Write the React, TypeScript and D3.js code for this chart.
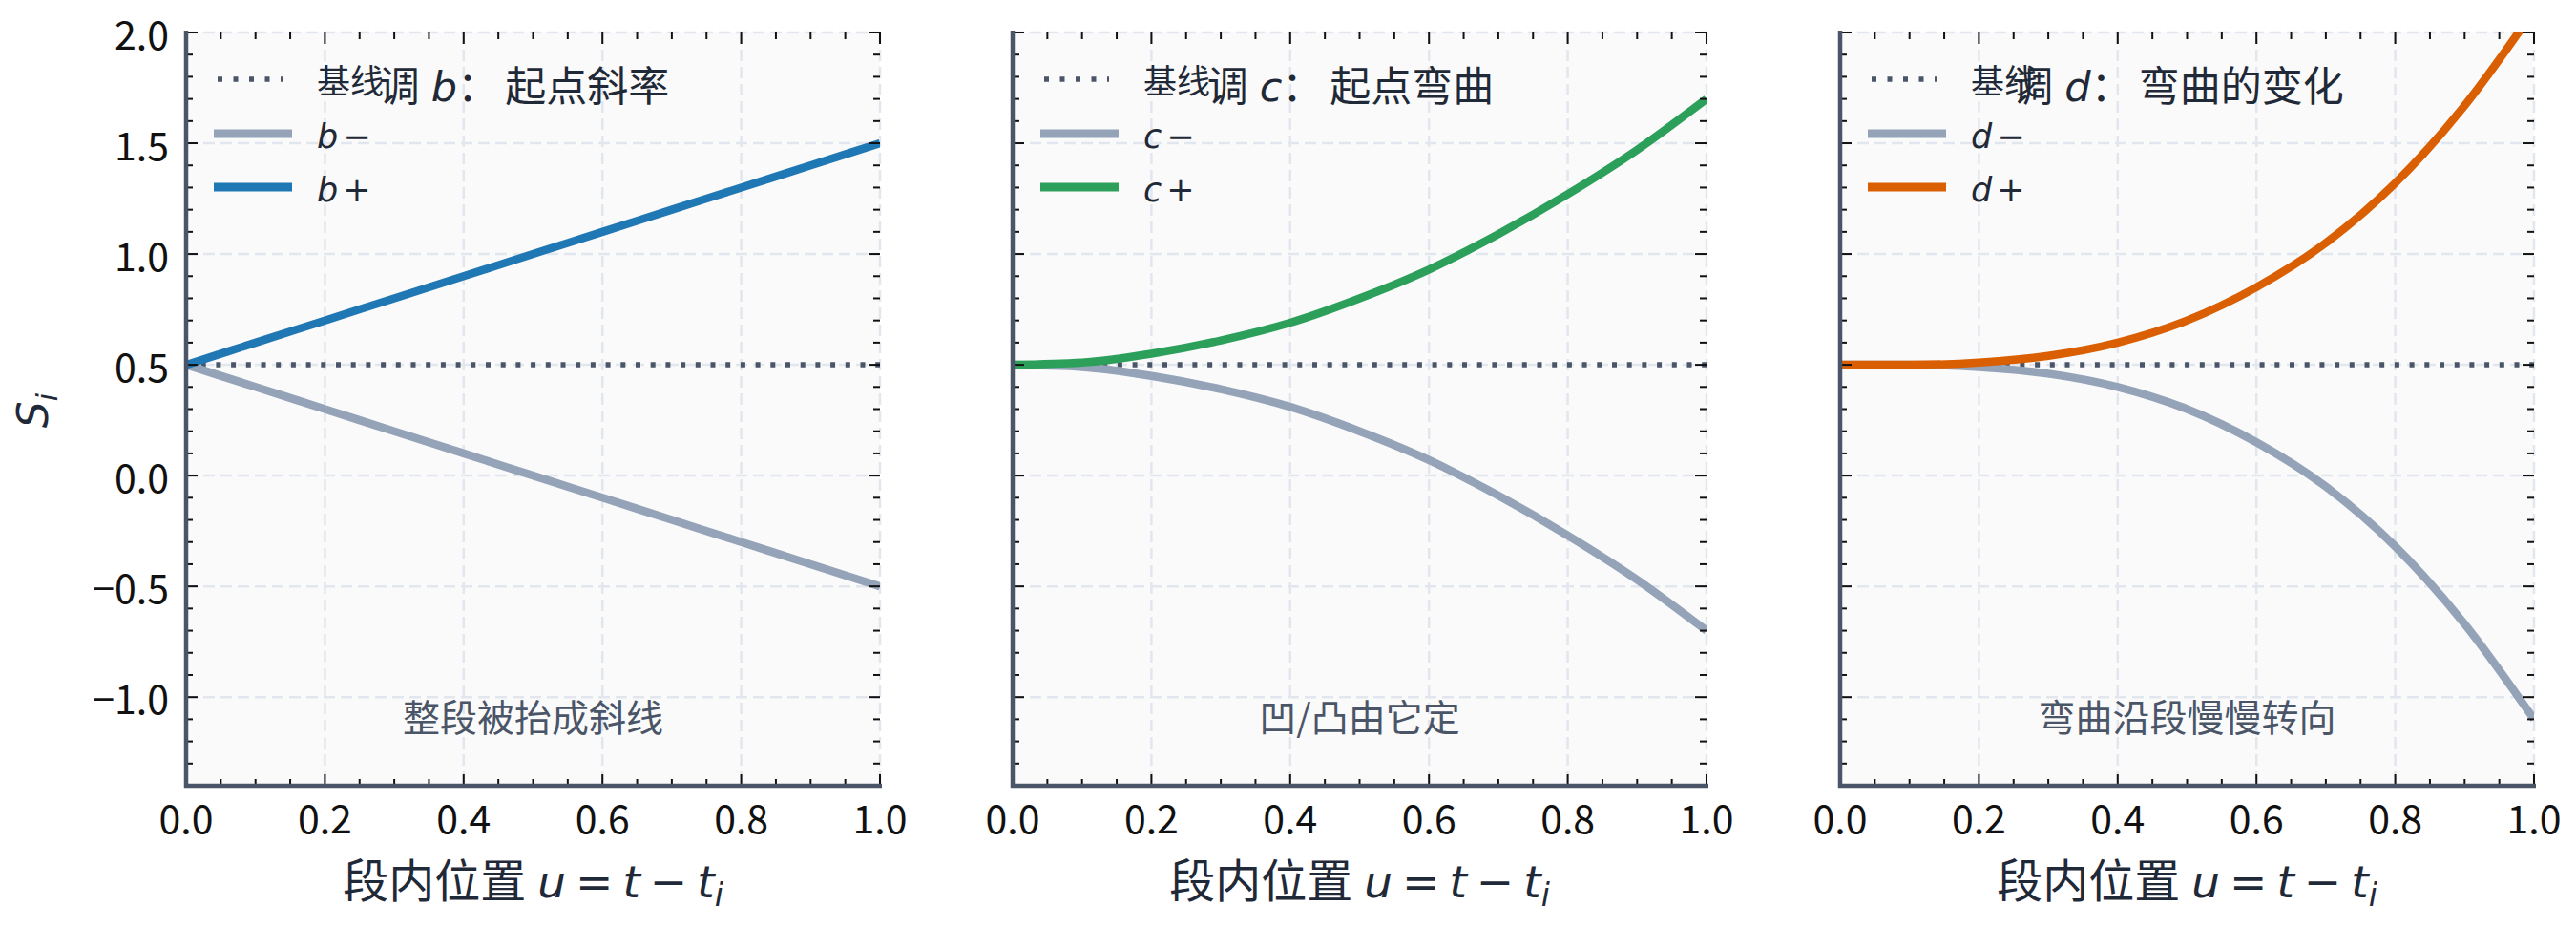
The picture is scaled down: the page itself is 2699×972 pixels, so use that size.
import React from 'react';
import * as d3 from 'd3';

const W = 2699;
const H = 972;

// sample positions along the segment
const uValues = [0, 0.1, 0.2, 0.3, 0.4, 0.5, 0.6, 0.7, 0.8, 0.9, 1.0];

// values
const baseline = [0.5, 0.5, 0.5, 0.5, 0.5, 0.5, 0.5, 0.5, 0.5, 0.5, 0.5];
const bMinus = [0.5, 0.4, 0.3, 0.2, 0.1, 0.0, -0.1, -0.2, -0.3, -0.4, -0.5];
const bPlus = [0.5, 0.6, 0.7, 0.8, 0.9, 1.0, 1.1, 1.2, 1.3, 1.4, 1.5];
const cMinus = [0.5, 0.49, 0.45, 0.39, 0.31, 0.2, 0.07, -0.09, -0.27, -0.47, -0.7];
const cPlus = [0.5, 0.51, 0.55, 0.61, 0.69, 0.8, 0.93, 1.09, 1.27, 1.47, 1.7];
const dMinus = [0.5, 0.5, 0.49, 0.46, 0.4, 0.3, 0.15, -0.05, -0.32, -0.67, -1.1];
const dPlus = [0.5, 0.5, 0.51, 0.54, 0.6, 0.7, 0.85, 1.05, 1.32, 1.67, 2.1];

const xTicks = [0, 0.2, 0.4, 0.6, 0.8, 1.0];
const yTicks = [-1.0, -0.5, 0.0, 0.5, 1.0, 1.5, 2.0];

const letters = ['b', 'c', 'd'];
const titles = ['起点斜率', '起点弯曲', '弯曲的变化'];
const notes = ['整段被抬成斜线', '凹/凸由它定', '弯曲沿段慢慢转向'];
const minusSeries = [bMinus, cMinus, dMinus];
const plusSeries = [bPlus, cPlus, dPlus];
const plusColors = ['#1f77b4', '#2ca05a', '#d95f02'];
const minusColor = '#94a3b8';

const FONT = '"Noto Sans CJK SC", "Noto Sans", sans-serif';
const MATH = '"DejaVu Sans", sans-serif';
const panelLefts = [195, 1061, 1928];
const panelW = 727;
const top = 34;
const bottom = 823;

function Panel({ idx }: { idx: number }) {
  const left = panelLefts[idx];
  const right = left + panelW;
  const x = d3.scaleLinear().domain([0, 1]).range([left, right]);
  const y = d3.scaleLinear().domain([-1.4, 2.0]).range([bottom, top]);
  const line = d3
    .line<number>()
    .x((_, i) => x(uValues[i]))
    .y((v) => y(v))
    .curve(d3.curveMonotoneX);

  const xMinor = x.ticks(20).filter((t) => !xTicks.some((m) => Math.abs(m - t) < 1e-9));
  const yMinor = y.ticks(34).filter((t) => !yTicks.some((m) => Math.abs(m - t) < 1e-9));
  const clipId = 'clip' + idx;
  const cx = (left + right) / 2;
  const tickCol = '#111';
  const letter = letters[idx];

  return (
    <g>
      <defs>
        <clipPath id={clipId}>
          <rect x={left} y={top} width={panelW} height={bottom - top} />
        </clipPath>
      </defs>
      <rect x={left} y={top} width={panelW} height={bottom - top} fill="#fafafa" />
      {/* grid */}
      {xTicks.map((t) => (
        <line key={'gx' + t} x1={x(t)} x2={x(t)} y1={top} y2={bottom}
          stroke="#e2e6ee" strokeWidth={2.5} strokeDasharray="12,6" />
      ))}
      {yTicks.map((t) => (
        <line key={'gy' + t} x1={left} x2={right} y1={y(t)} y2={y(t)}
          stroke="#e2e6ee" strokeWidth={2.5} strokeDasharray="12,6" />
      ))}
      {/* curves */}
      <g clipPath={`url(#${clipId})`}>
        <path d={line(baseline) || ''} fill="none" stroke="#4a5568" strokeWidth={5.5} strokeDasharray="5,10.7" />
        <path d={line(minusSeries[idx]) || ''} fill="none" stroke={minusColor} strokeWidth={8.5} />
        <path d={line(plusSeries[idx]) || ''} fill="none" stroke={plusColors[idx]} strokeWidth={8.5} />
      </g>
      {/* ticks */}
      {xTicks.map((t) => (
        <g key={'tx' + t}>
          <line x1={x(t)} x2={x(t)} y1={bottom} y2={bottom - 12} stroke={tickCol} strokeWidth={2} />
          <line x1={x(t)} x2={x(t)} y1={top} y2={top + 12} stroke={tickCol} strokeWidth={2} />
          <text x={x(t)} y={873} textAnchor="middle" fontSize={41} fill={tickCol}>{t.toFixed(1)}</text>
        </g>
      ))}
      {xMinor.map((t) => (
        <g key={'mx' + t}>
          <line x1={x(t)} x2={x(t)} y1={bottom} y2={bottom - 7} stroke={tickCol} strokeWidth={2} />
          <line x1={x(t)} x2={x(t)} y1={top} y2={top + 7} stroke={tickCol} strokeWidth={2} />
        </g>
      ))}
      {yTicks.map((t) => (
        <g key={'ty' + t}>
          <line x1={left} x2={left + 12} y1={y(t)} y2={y(t)} stroke={tickCol} strokeWidth={2} />
          <line x1={right} x2={right - 12} y1={y(t)} y2={y(t)} stroke={tickCol} strokeWidth={2} />
          {idx === 0 && (
            <text x={left - 18} y={y(t) + 18} textAnchor="end" fontSize={41} fill={tickCol}>
              {t < 0 ? '\u2212' + Math.abs(t).toFixed(1) : t.toFixed(1)}
            </text>
          )}
        </g>
      ))}
      {yMinor.map((t) => (
        <g key={'my' + t}>
          <line x1={left} x2={left + 7} y1={y(t)} y2={y(t)} stroke={tickCol} strokeWidth={2} />
          <line x1={right} x2={right - 7} y1={y(t)} y2={y(t)} stroke={tickCol} strokeWidth={2} />
        </g>
      ))}
      {/* spines */}
      <line x1={left} x2={left} y1={top - 2} y2={bottom + 2} stroke="#4a5568" strokeWidth={4.5} />
      <line x1={left - 2} x2={right + 2} y1={bottom} y2={bottom} stroke="#4a5568" strokeWidth={4.5} />
      {/* legend */}
      <g>
        <line x1={left + 33} x2={left + 101} y1={83} y2={83} stroke="#4a5568" strokeWidth={5.5} strokeDasharray="5,11.5" />
        <text x={left + 137} y={98} fontSize={35} fill="#1f2937">基线</text>
        <line x1={left + 29} x2={left + 111} y1={140} y2={140} stroke={minusColor} strokeWidth={9} />
        <text x={left + 137} y={155} fontSize={35} fill="#1f2937" fontFamily={MATH}>
          <tspan fontStyle="italic">{letter}</tspan>
          <tspan dx={5}>{'\u2212'}</tspan>
        </text>
        <line x1={left + 29} x2={left + 111} y1={196} y2={196} stroke={plusColors[idx]} strokeWidth={9} />
        <text x={left + 137} y={211} fontSize={35} fill="#1f2937" fontFamily={MATH}>
          <tspan fontStyle="italic">{letter}</tspan>
          <tspan dx={5}>+</tspan>
        </text>
        <text x={left + 354} y={106} fontSize={43} fill="#1f2937" textAnchor="middle">
          <tspan>调</tspan>
          <tspan dx={12} fontStyle="italic" fontFamily={MATH}>{letter}</tspan>
          <tspan>：</tspan>
          <tspan dx={7}>{titles[idx]}</tspan>
        </text>
      </g>
      {/* note */}
      <text x={cx} y={766} textAnchor="middle" fontSize={39} fill="#4a5568">{notes[idx]}</text>
      {/* x label */}
      <text x={cx} y={940} textAnchor="middle" fontSize={47} fill="#1f2937">
        <tspan fontSize={48}>段内位置</tspan>
        <tspan dx={12} fontStyle="italic" fontFamily={MATH}>u</tspan>
        <tspan dx={10} fontFamily={MATH}>=</tspan>
        <tspan dx={10} fontStyle="italic" fontFamily={MATH}>t</tspan>
        <tspan dx={10} fontFamily={MATH}>{'\u2212'}</tspan>
        <tspan dx={10} fontStyle="italic" fontFamily={MATH}>t</tspan>
        <tspan fontStyle="italic" fontFamily={MATH} fontSize={33} dy={9}>i</tspan>
      </text>
    </g>
  );
}

export default function App() {
  return (
    <svg width={W} height={H} style={{ position: 'absolute', left: 0, top: 0, background: '#fff' }}
      fontFamily={FONT}>
      <rect width={W} height={H} fill="#fff" />
      {[0, 1, 2].map((i) => (
        <Panel key={i} idx={i} />
      ))}
      <text transform="translate(50,430) rotate(-90)" textAnchor="middle" fill="#1f2937" fontFamily={MATH}>
        <tspan fontStyle="italic" fontSize={44}>S</tspan>
        <tspan fontStyle="italic" fontSize={30} dy={10}>i</tspan>
      </text>
    </svg>
  );
}
